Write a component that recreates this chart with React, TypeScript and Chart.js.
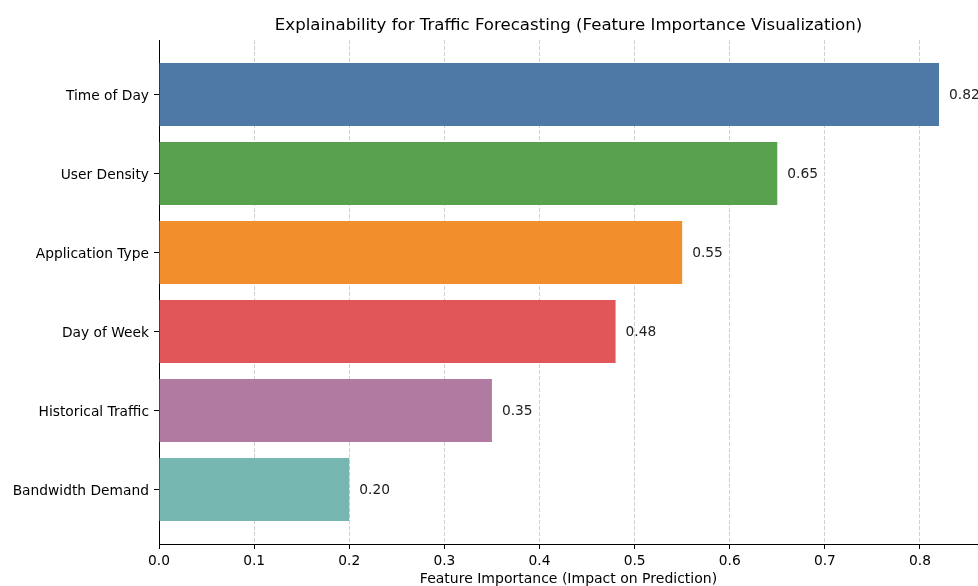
import React, { useEffect, useRef } from "react";
import { Chart, registerables } from "chart.js";

Chart.register(...registerables);

// Feature names, top to bottom
const features = [
  "Time of Day",
  "User Density",
  "Application Type",
  "Day of Week",
  "Historical Traffic",
  "Bandwidth Demand",
];
const importance = [0.82, 0.65, 0.55, 0.48, 0.35, 0.2];
const barColors = ["#4e79a7", "#59a14f", "#f28e2b", "#e15759", "#b07aa1", "#76b7b2"];
const xTicks = [0, 0.1, 0.2, 0.3, 0.4, 0.5, 0.6, 0.7, 0.8];

const titleText = "Explainability for Traffic Forecasting (Feature Importance Visualization)";
const xTitle = "Feature Importance (Impact on Prediction)";
const FONT = "'DejaVu Sans', Verdana, sans-serif";

const titlePlugin = {
  id: "plotTitle",
  afterDraw(chart: any) {
    const { ctx, chartArea } = chart;
    ctx.save();
    ctx.font = `16.6px ${FONT}`;
    ctx.fillStyle = "#000";
    ctx.textAlign = "center";
    ctx.textBaseline = "middle";
    ctx.fillText(titleText, (chartArea.left + chartArea.right) / 2, 26);
    ctx.restore();
  },
};

const valueLabelPlugin = {
  id: "valueLabels",
  afterDatasetsDraw(chart: any) {
    const { ctx } = chart;
    const meta = chart.getDatasetMeta(0);
    ctx.save();
    ctx.font = `13.8px ${FONT}`;
    ctx.fillStyle = "#222";
    ctx.textAlign = "left";
    ctx.textBaseline = "middle";
    meta.data.forEach((bar: any, i: number) => {
      ctx.fillText(importance[i].toFixed(2), bar.x + 10, bar.y + 0.5);
    });
    ctx.restore();
  },
};

export default function App() {
  const canvasRef = useRef<HTMLCanvasElement | null>(null);

  useEffect(() => {
    document.body.style.margin = "0";
    const canvas = canvasRef.current;
    if (!canvas) return;
    const chart = new Chart(canvas, {
      type: "bar",
      data: {
        datasets: [
          {
            data: importance.map((v, i) => ({ x: v, y: i })),
            backgroundColor: barColors,
            borderWidth: 0,
            categoryPercentage: 0.8,
            barPercentage: 1,
          },
        ],
      },
      options: {
        indexAxis: "y",
        responsive: false,
        animation: false,
        devicePixelRatio: 1,
        layout: { padding: { top: 40, right: 0, bottom: 0, left: 0 } },
        plugins: {
          legend: { display: false },
          tooltip: { enabled: false },
          title: { display: false },
        },
        scales: {
          x: {
            type: "linear",
            position: "bottom",
            min: 0,
            max: 0.861,
            offset: false,
            z: 1,
            afterBuildTicks: (scale: any) => {
              scale.ticks = xTicks.map((v) => ({ value: v }));
            },
            afterFit: (scale: any) => {
              scale.height = 42;
            },
            ticks: {
              color: "#000",
              font: { family: FONT, size: 13.8 },
              padding: 4,
              maxRotation: 0,
              callback: (v: any) => Number(v).toFixed(1),
            },
            grid: {
              offset: false,
              color: "rgba(176,176,176,0.6)",
              lineWidth: 1,
              drawTicks: true,
              tickLength: 5,
              tickColor: "#000",
              tickWidth: 1,
              tickBorderDash: [],
            },
            border: { display: true, color: "#000", width: 1, dash: [4, 2] },
            title: {
              display: true,
              text: xTitle,
              color: "#000",
              font: { family: FONT, size: 14 },
              padding: { top: 0, bottom: -2 },
            },
          },
          y: {
            type: "linear",
            position: "left",
            reverse: true,
            min: -0.69,
            max: 5.69,
            offset: false,
            afterBuildTicks: (scale: any) => {
              scale.ticks = features.map((_, i) => ({ value: i }));
            },
            afterFit: (scale: any) => {
              scale.width = 159;
            },
            ticks: {
              color: "#000",
              font: { family: FONT, size: 13.8 },
              padding: 5,
              labelOffset: 1.5,
              callback: (v: any) => features[Number(v)] ?? "",
            },
            grid: {
              offset: false,
              drawOnChartArea: false,
              drawTicks: true,
              tickLength: 5,
              tickColor: "#000",
              tickWidth: 1,
            },
            border: { display: true, color: "#000", width: 1 },
          },
        },
      },
      plugins: [valueLabelPlugin, titlePlugin],
    } as any);
    return () => chart.destroy();
  }, []);

  return (
    <div style={{ position: "fixed", left: 0, top: 0, width: 978, height: 586, background: "#fff" }}>
      <canvas ref={canvasRef} width={978} height={586} style={{ width: 978, height: 586 }} />
    </div>
  );
}
